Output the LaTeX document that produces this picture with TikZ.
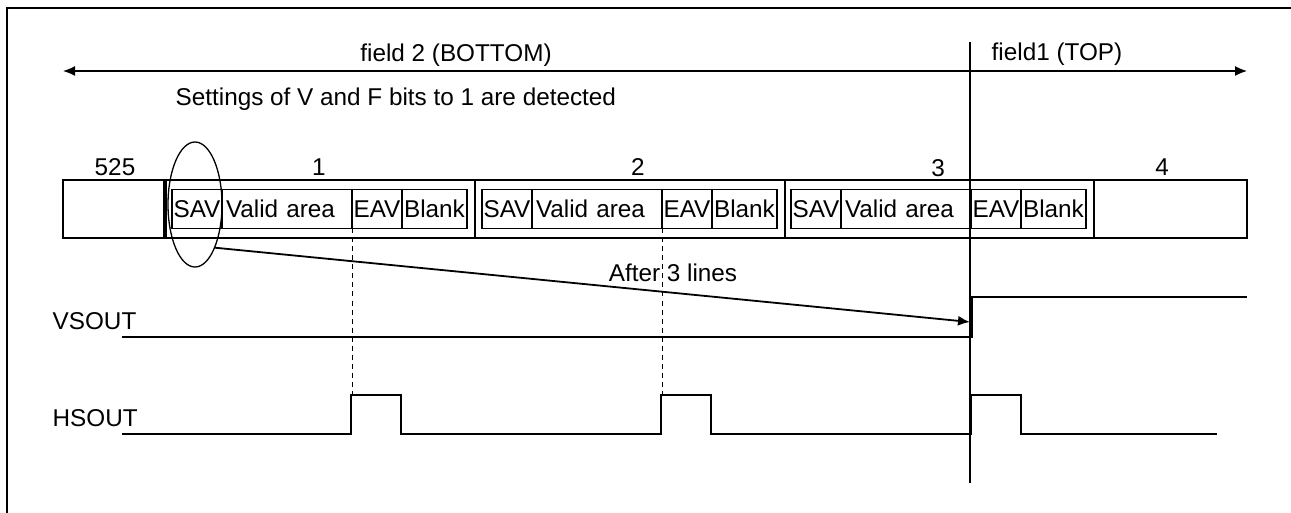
\documentclass[tikz,border=0pt]{standalone}
\usepackage{fontspec}
\setmainfont{Liberation Sans}
\usetikzlibrary{positioning,arrows.meta,shapes.geometric}

\begin{document}
\begin{tikzpicture}[x=1pt, y=-1pt, line width=1.3pt,
    font=\fontsize{24.3}{28}\selectfont,
    >={Latex[length=12pt,width=10pt]},
    linebox/.style={draw, minimum height=58, inner sep=0pt, outer sep=0pt},
    cell/.style={draw, minimum height=39, inner sep=0pt, outer sep=0pt},
    area/.style={cell, text width=122pt, inner xsep=4pt, align=left},
    txt/.style={inner sep=0pt}]
    \useasboundingbox (0,0) rectangle (1291,513);
    \draw [line width=2.8pt] (7,513) -- (7,8) -- (1291,8);

    % field arrow and divider
    \coordinate (fl) at (63,71);
    \coordinate (fr) at (1247,71);
    \coordinate (dtop) at (970,42);
    \coordinate (dbot) at (970,483);
    \draw [<->] (fl) -- (fr);
    \draw (dtop) -- (dbot);
    \node (f2) [txt, anchor=base] at (456,62) {field 2 (BOTTOM)};
    \node (f1) [txt, anchor=base] at (1057,61) {field1 (TOP)};
    \node (detect) [txt, anchor=base west] at (175,106) {Settings of V and F bits to 1 are detected};

    % lines
    \node (l525) [linebox, minimum width=101, anchor=west] at (63,209) {};
    \node (l1) [linebox, minimum width=309, right=2pt of l525] {};
    \node (l2) [linebox, minimum width=310, right=0pt of l1] {};
    \node (l3) [linebox, minimum width=309, right=0pt of l2] {};
    \node (l4) [linebox, minimum width=153, right=0pt of l3] {};
    \node (n525) [txt, anchor=base] at (115,176) {525};
    \node (n1) [txt, anchor=base] at (319,176) {1};
    \node (n2) [txt, anchor=base] at (638,176) {2};
    \node (n3) [txt, anchor=base] at (938,177) {3};
    \node (n4) [txt, anchor=base] at (1162,176) {4};

    \node (sav1) [cell, minimum width=50, right=6pt of l1.west] {SAV};
    \node (va1) [area, right=0pt of sav1] {Valid area};
    \node (eav1) [cell, minimum width=50, right=0pt of va1] {EAV};
    \node (bl1) [cell, minimum width=65, right=0pt of eav1] {Blank};

    \node (sav2) [cell, minimum width=50, right=7pt of l2.west] {SAV};
    \node (va2) [area, right=0pt of sav2] {Valid area};
    \node (eav2) [cell, minimum width=50, right=0pt of va2] {EAV};
    \node (bl2) [cell, minimum width=65, right=0pt of eav2] {Blank};

    \node (sav3) [cell, minimum width=50, right=6pt of l3.west] {SAV};
    \node (va3) [area, right=0pt of sav3] {Valid area};
    \node (eav3) [cell, minimum width=50, right=0pt of va3] {EAV};
    \node (bl3) [cell, minimum width=65, right=0pt of eav3] {Blank};

    % detection mark
    \node (ell) [draw, ellipse, minimum width=54, minimum height=125, inner sep=0pt] at (195,204.5) {};
    \coordinate (vtip) at (970,322);
    \draw [->, line width=1.8pt] (ell.-65) -- (vtip);
    \node (after) [txt, anchor=base] at (673,281) {After 3 lines};

    % signals
    \node (vs) [txt, anchor=base west] at (52,329) {VSOUT};
    \node (hs) [txt, anchor=base west] at (52,426) {HSOUT};
    \coordinate (hstop) at (0,395);
    \draw [line width=1.6pt] (122,337) -- (972,337) -- (972,297) -- (1247,297);
    \draw (122,434) -- (351,434) -- (351,395) -- (401,395) -- (401,434)
        -- (661,434) -- (661,395) -- (711,395) -- (711,434)
        -- (971,434) -- (971,395) -- (1021,395) -- (1021,434) -- (1217,434);
    \draw [line width=0.8pt, dash pattern=on 5pt off 4pt] (eav1.south west) -- (eav1.south west |- hstop);
    \draw [line width=0.8pt, dash pattern=on 5pt off 4pt] (eav2.south west) -- (eav2.south west |- hstop);
\end{tikzpicture}
\end{document}
